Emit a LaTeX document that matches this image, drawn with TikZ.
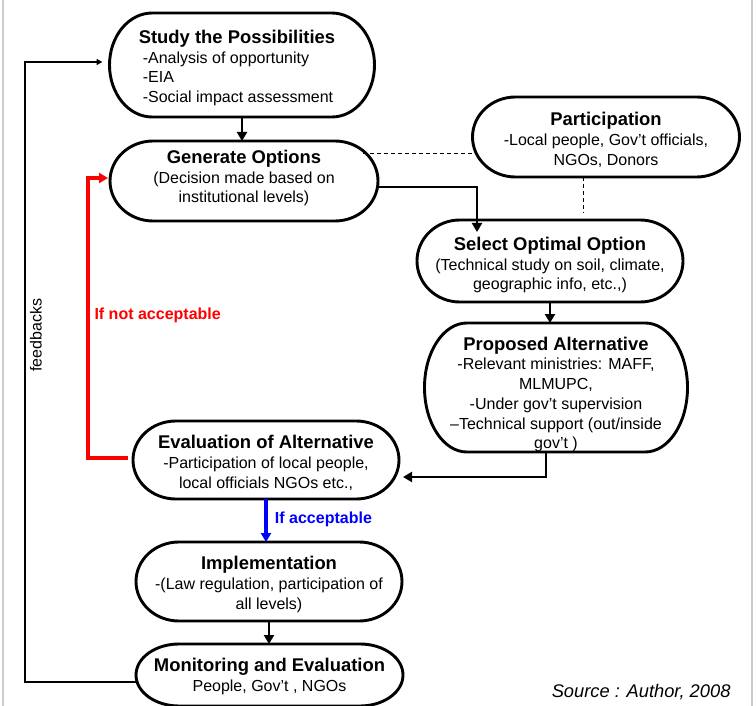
\documentclass[tikz,border=0pt]{standalone}
\usepackage{fontspec}
\setmainfont{Liberation Sans}
\usetikzlibrary{calc,arrows.meta}
\newcommand\tf{\fontsize{18.4}{19.7}\selectfont\bfseries}
\newcommand\bodyf{\fontsize{16}{19.7}\selectfont}
\newcommand\termdraw[1]{%
  \draw[boxline] let \p1=(#1.north west), \p2=(#1.south east),
    \n1={0.161*(\x2-\x1)}, \n2={(\y1-\y2)/2} in
    (\x1+\n1,\y1) -- (\x2-\n1,\y1)
    arc[start angle=90,end angle=-90,x radius=\n1,y radius=\n2]
    -- (\x1+\n1,\y2)
    arc[start angle=270,end angle=90,x radius=\n1,y radius=\n2] -- cycle;}
% \term{name}{x}{y}{w}{h}{dx}{dy}{align}{text}
\newcommand\term[9]{%
  \node[box, minimum width=#4pt, minimum height=#5pt] (#1) at (#2,#3) {};
  \node[txt, align=#8] (#1-t) at ($(#1)+(#6,#7)$) {#9};
  \termdraw{#1}}
\tikzset{
  box/.style={inner sep=0pt, outer sep=0pt},
  txt/.style={inner sep=0pt, outer sep=0pt, font=\bodyf},
  boxline/.style={line width=2.9pt, line join=round},
  arr/.style={line width=2.9pt, -{Triangle[length=9pt,width=10pt]}},
  redarr/.style={line width=3.3pt, red, -{Triangle[length=9pt,width=10pt]}},
  bluearr/.style={line width=3.3pt, blue, -{Triangle[length=9pt,width=10pt]}},
  fbline/.style={line width=1.5pt, -{Triangle[length=6pt,width=6pt]}},
  dashline/.style={line width=0.9pt, dash pattern=on 4pt off 3pt},
}
\begin{document}
\begin{tikzpicture}[x=1pt,y=1pt]
\useasboundingbox (0,0) rectangle (756,-706);
\fill[white] (0,0) rectangle (756,-706);
\draw[black!20, line width=2pt] (3,0) -- (3,-706) (752,0) -- (752,-706);

\term{study}{242}{-65}{265}{104}{-5}{-3}{left}
  {{\tf Study the Possibilities}\\\hspace{4pt}-Analysis of opportunity\\\hspace{4pt}-EIA\\\hspace{4pt}-Social impact assessment}
\term{gen}{244}{-181}{268}{80}{0}{3}{center}
  {{\tf Generate Options}\\(Decision made based on\\institutional levels)}
\term{part}{606}{-137}{267}{80}{0}{-3}{center}
  {{\tf Participation}\\-Local people, Gov’t officials,\\NGOs, Donors}
\term{sel}{550}{-261}{266}{82}{0}{-4}{center}
  {{\tf Select Optimal Option}\\(Technical study on soil, climate,\\geographic info, etc.,)}
\term{prop}{556}{-387.5}{263}{129}{0}{-7}{center}
  {{\tf Proposed Alternative}\\-Relevant ministries: MAFF,\\MLMUPC,\\-Under gov’t supervision\\–Technical support (out/inside\\gov’t )}
\term{evalalt}{266}{-460}{266}{78}{0}{-3}{center}
  {{\tf Evaluation of Alternative}\\-Participation of local people,\\local officials NGOs etc.,}
\term{impl}{269}{-581.5}{266}{79}{0}{-3}{center}
  {{\tf Implementation}\\-(Law regulation, participation of\\all levels)}
\term{mon}{269.5}{-675}{267}{62}{0}{-1.5}{center}
  {{\tf Monitoring and Evaluation}\\People, Gov’t , NGOs}

% connectors
\draw[arr] (study.south) -- (study.south |- gen.north);
\coordinate (gs) at ($(sel.north)+(-73,-12)$);
\draw[arr] ($(gen.east)+(-1,-6)$) -| (gs);
\draw[arr] (sel.south) -- (sel.south |- prop.north);
\coordinate (pe) at ($(evalalt.east)+(4,-17)$);
\draw[arr] ($(prop.south)+(-10,0)$) |- (pe);
\draw[bluearr] (evalalt.south) -- (evalalt.south |- impl.north)
  node[pos=0.48, anchor=west, xshift=4pt, text=blue, font=\fontsize{16}{19}\selectfont\bfseries] {If acceptable};
\draw[arr] (impl.south) -- (impl.south |- mon.north);

\coordinate (rc) at ($(gen.west)+(-22,3)$);
\draw[redarr] ($(evalalt.west)+(-5,2)$) -| (rc) -- ($(gen.west)+(-2,3)$);
\node[anchor=west, text=red, font=\fontsize{16}{19}\selectfont\bfseries] (nacc) at (91,-315) {If not acceptable};

\coordinate (fbc) at (25,-62);
\draw[fbline] ($(mon.west)+(0,-7)$) -| (fbc) -- ($(study.west)+(-7,3)$);
\node[rotate=90, font=\fontsize{16}{19}\selectfont] (fbl) at (36,-335) {feedbacks};

\draw[dashline] ($(gen.east)+(-15,28)$) -- ($(part.west)+(3,-16)$);
\coordinate (ps) at ($(sel.north)+(33,7)$);
\draw[dashline] ($(part.south)+(-23,0)$) -- (ps);

\node[anchor=east, font=\itshape\fontsize{18.3}{20}\selectfont] (src) at (734,-692) {Source : Author, 2008};
\end{tikzpicture}
\end{document}
